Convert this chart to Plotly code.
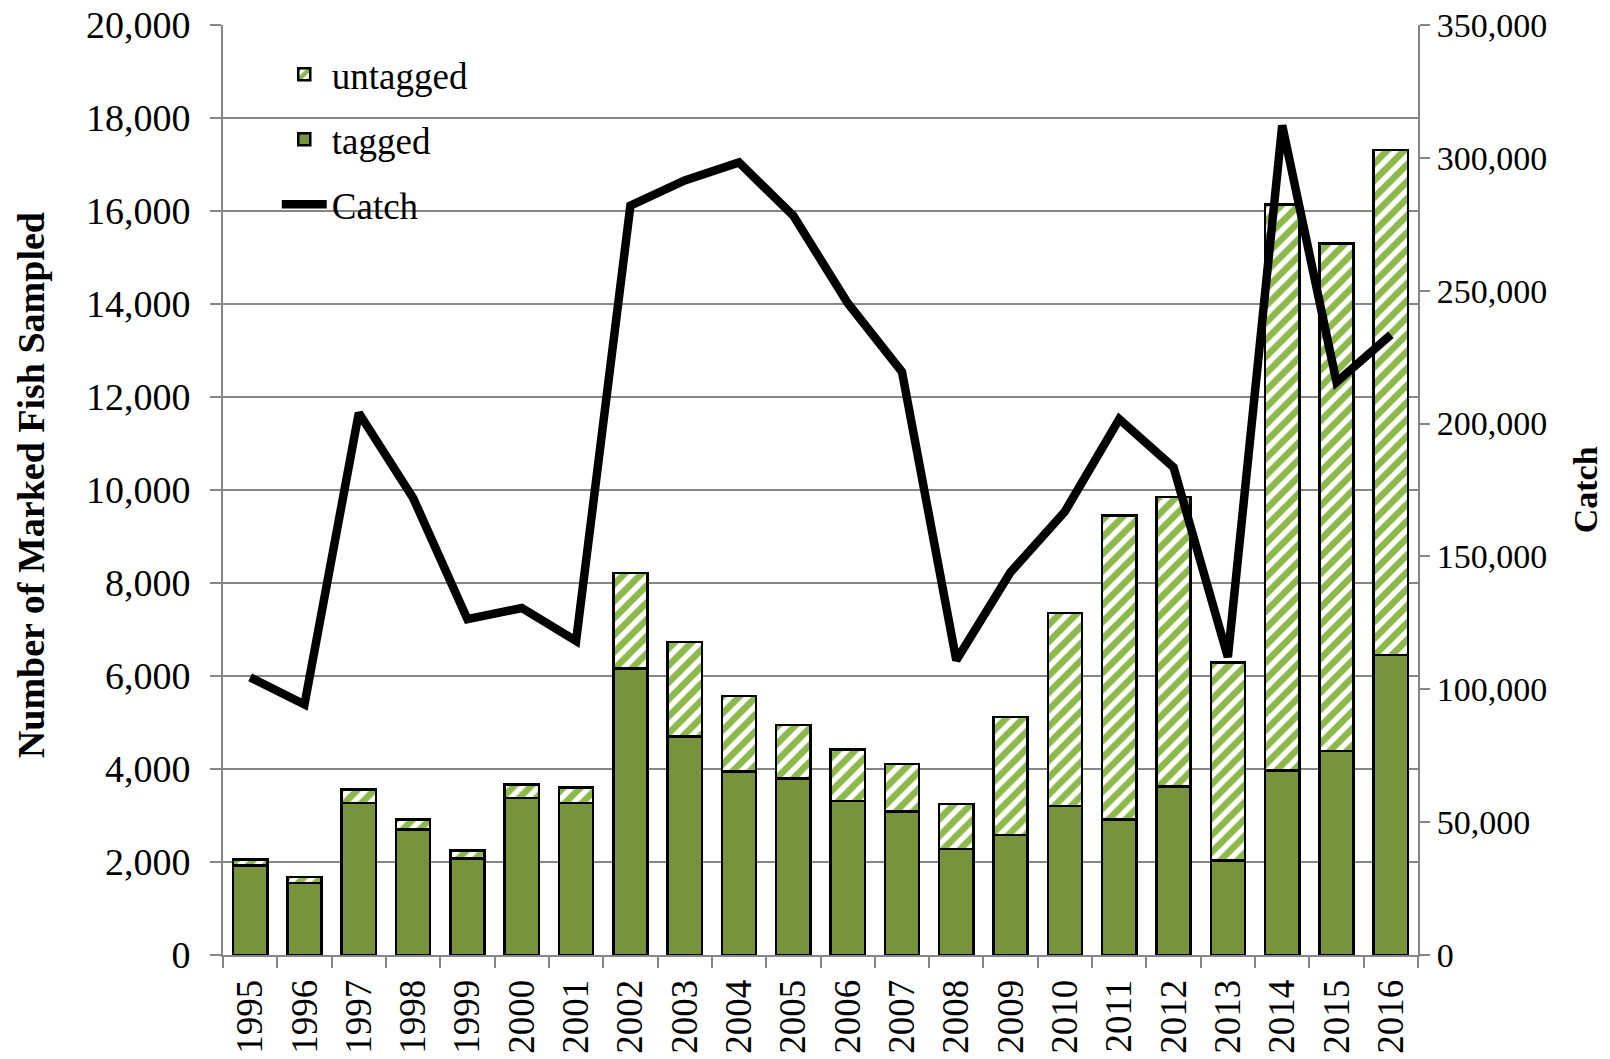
import plotly.graph_objects as go

years = [str(y) for y in range(1995, 2017)]
tagged = [1920, 1545, 3270, 2695, 2075, 3375, 3265, 6160, 4700, 3950, 3800, 3310,
          3090, 2275, 2585, 3200, 2910, 3620, 2030, 3970, 4390, 6450]
totals = [2050, 1680, 3555, 2915, 2250, 3665, 3600, 8210, 6735, 5565, 4945, 4415,
          4105, 3245, 5120, 7350, 9450, 9845, 6290, 16140, 15300, 17310]
untagged = [t - g for t, g in zip(totals, tagged)]
catch = [104500, 94300, 204000, 172000, 126400, 130600, 118200, 282000, 291500, 298300,
         278200, 245400, 219500, 110900, 144100, 166900, 201700, 183500, 112100, 312200,
         215600, 233400]

GRAY = "#868686"
FONT = "Liberation Serif"

fig = go.Figure()
fig.add_trace(go.Bar(
    x=years, y=tagged, name="tagged", legendrank=2, legendgroup="b",
    marker=dict(color="#77933C", line=dict(color="black", width=2.5)),
))
fig.add_trace(go.Bar(
    x=years, y=untagged, name="untagged", legendrank=1, legendgroup="a",
    marker=dict(color="white", line=dict(color="black", width=2.5),
                pattern=dict(shape="/", fgcolor="#8DB84A", bgcolor="white",
                             fgopacity=1, size=12, solidity=0.55)),
))
fig.add_trace(go.Scatter(
    x=years, y=catch, name="Catch", legendrank=3, legendgroup="c", yaxis="y2",
    mode="lines", line=dict(color="black", width=8.5),
))

fig.update_layout(
    width=1602, height=1051,
    barmode="stack", bargap=0.37,
    plot_bgcolor="white", paper_bgcolor="white",
    margin=dict(l=215, r=192, t=17, b=104),
    font=dict(family=FONT, size=36, color="black"),
    showlegend=True,
    legend=dict(x=0.045, y=0.98, xanchor="left", yanchor="top",
                bgcolor="rgba(0,0,0,0)", font=dict(size=37, family=FONT),
                tracegroupgap=14, itemwidth=45),
    xaxis=dict(
        type="category", tickangle=-90, showline=True, linecolor=GRAY, linewidth=2,
        ticks="outside", tickson="boundaries", ticklen=11, tickcolor=GRAY, tickwidth=2,
        tickfont=dict(size=37, family=FONT), showgrid=False, automargin=False,
        ticklabeloverflow="allow", ticklabelstandoff=8,
    ),
    yaxis=dict(
        range=[0, 20000], dtick=2000, tickformat=",", showline=True, linecolor=GRAY,
        linewidth=2, ticks="outside", ticklen=11, tickcolor=GRAY, tickwidth=2,
        gridcolor=GRAY, gridwidth=2, zeroline=False, automargin=False,
        tickfont=dict(size=38, family=FONT), ticklabeloverflow="allow",
        ticklabelstandoff=12,
    ),
    yaxis2=dict(
        range=[0, 350000], dtick=50000, tickformat=",", overlaying="y", side="right",
        showline=True, linecolor=GRAY, linewidth=2, ticks="outside", ticklen=10,
        tickcolor=GRAY, tickwidth=2, showgrid=False, zeroline=False, automargin=False,
        tickfont=dict(size=34, family=FONT), ticklabeloverflow="allow",
    ),
    annotations=[
        dict(text="<b>Number of Marked Fish Sampled</b>", xref="paper", yref="paper",
             x=-0.16, y=0.505, xanchor="center", yanchor="middle", textangle=-90,
             showarrow=False, font=dict(size=38, family=FONT)),
        dict(text="<b>Catch</b>", xref="paper", yref="paper",
             x=1.14, y=0.5, xanchor="center", yanchor="middle", textangle=-90,
             showarrow=False, font=dict(size=34, family=FONT)),
    ],
)

fig.write_html("out.html")
